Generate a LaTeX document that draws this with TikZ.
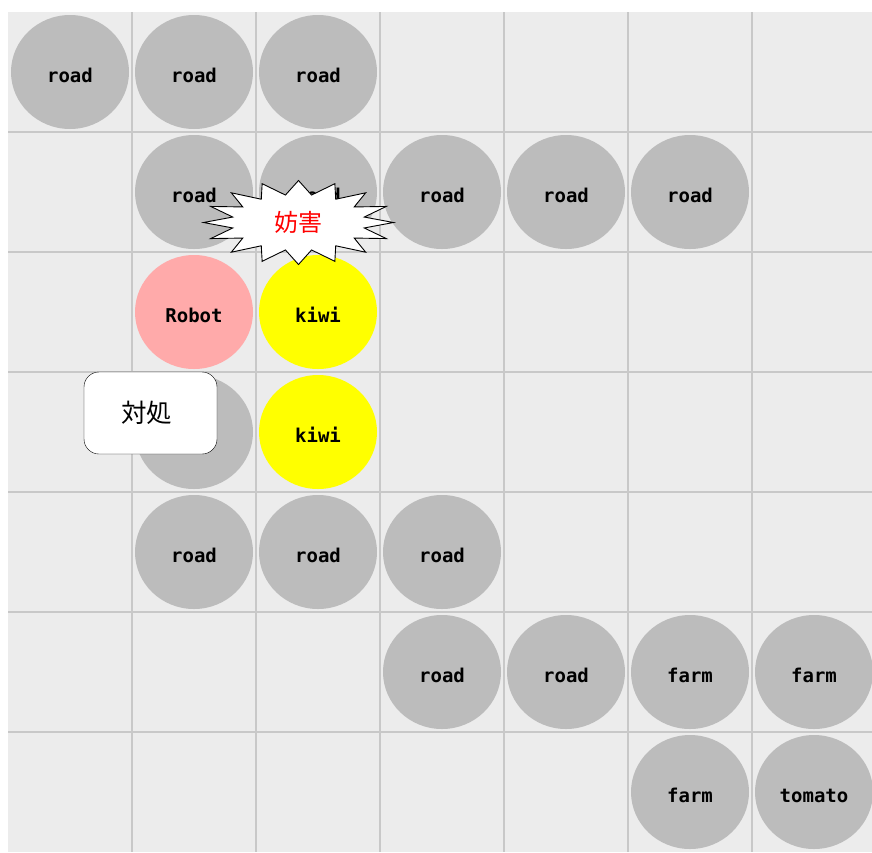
\documentclass[tikz,border=0pt]{standalone}
\usepackage{fontspec}
\usetikzlibrary{shapes.geometric,calc}
\newfontfamily\cellfont{DejaVu Sans Mono}
\newfontfamily\cjk{Noto Sans CJK JP}
\definecolor{bgc}{HTML}{ECECEC}
\definecolor{gridc}{HTML}{C8C8C8}
\definecolor{roadc}{HTML}{BCBCBC}
\definecolor{robotc}{HTML}{FFAAAA}
\definecolor{kiwic}{HTML}{FFFF00}
\tikzset{
  cell/.style={ellipse, minimum width=118pt, minimum height=114pt, inner sep=0pt, fill=roadc,
    text height=21pt, text depth=0pt,
    font=\cellfont\bfseries\fontsize{19pt}{19pt}\selectfont, text=black},
  robotcell/.style={cell, fill=robotc},
  kiwicell/.style={cell, fill=kiwic},
  gridline/.style={draw=gridc, line width=1.2pt},
  burstshape/.style={draw=black, fill=white, line width=0.9pt, line join=miter},
  bursttext/.style={text=red, inner sep=0pt, font=\cjk\fontsize{24pt}{24pt}\selectfont},
  callout/.style={draw=black, fill=white, rounded corners=15pt, minimum width=133pt, minimum height=82pt,
    inner sep=0pt, font=\cjk\fontsize{25.5pt}{25.5pt}\selectfont},
}
\begin{document}
\begin{tikzpicture}[x=1pt,y=-1pt]
\path[use as bounding box] (0,0) rectangle (872,852);
\fill[white] (0,0) rectangle (872,852);
\fill[bgc] (8,12) rectangle (872,852);
\foreach \x in {132,256,380,504,628,752} \draw[gridline] (\x,12) -- (\x,852);
\foreach \y in {132,252,372,492,612,732} \draw[gridline] (8,\y) -- (872,\y);
% row 0
\node[cell] (r00) at (70,72) {road};
\node[cell] (r01) at (194,72) {road};
\node[cell] (r02) at (318,72) {road};
% row 1
\node[cell] (r11) at (194,192) {road};
\node[cell] (r12) at (318,192) {road};
\node[cell] (r13) at (442,192) {road};
\node[cell] (r14) at (566,192) {road};
\node[cell] (r15) at (690,192) {road};
% row 2
\node[robotcell] (robot) at (194,312) {Robot};
\node[kiwicell] (kiwi1) at (318,312) {kiwi};
% row 3
\node[cell] (r31) at (194,432) {road};
\node[kiwicell] (kiwi2) at (318,432) {kiwi};
% row 4
\node[cell] (r41) at (194,552) {road};
\node[cell] (r42) at (318,552) {road};
\node[cell] (r43) at (442,552) {road};
% row 5
\node[cell] (r53) at (442,672) {road};
\node[cell] (r54) at (566,672) {road};
\node[cell] (f55) at (690,672) {farm};
\node[cell] (f56) at (814,672) {farm};
% row 6
\node[cell] (f65) at (690,792) {farm};
\node[cell] (t66) at (814,792) {tomato};
% burst
\coordinate (burstc) at (298.5,222.5);
\path[burstshape] ($(burstc)+(0:95pt and 42pt)$)
  \foreach \k in {0,...,15} {
    -- ($(burstc)+({\k*22.5+11.25}:67pt and 28pt)$)
    -- ($(burstc)+({\k*22.5+22.5}:95pt and 42pt)$)
  } -- cycle;
\node[bursttext] (burst) at (burstc) {妨害};
% callout
\node[callout] (cope) at (150.5,413) {\hspace*{-8pt}対処};
\end{tikzpicture}
\end{document}
